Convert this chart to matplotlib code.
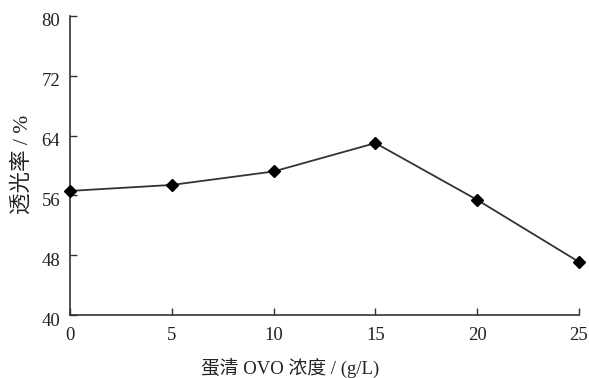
import matplotlib.pyplot as plt
from matplotlib.transforms import ScaledTranslation

# Data
conc = [0, 5, 10, 15, 20, 25]                       # g/L
transmittance = [56.6, 57.4, 59.2, 63.0, 55.4, 47.1]  # %
xticks = [0, 5, 10, 15, 20, 25]
yticks = [40, 48, 56, 64, 72, 80]

plt.rcParams['font.family'] = ['Liberation Serif', 'Noto Sans CJK SC']
textColour = "#222222"

fig = plt.figure(figsize=(5.89, 3.78), dpi=100)
ax = fig.add_axes([70/589, 1 - 315/378, 509/589, 299/378])

ax.plot(conc, transmittance, color="#333333", lw=1.3, marker="D", markersize=6,
        markerfacecolor="black", markeredgecolor="black", clip_on=False, zorder=3)

ax.set_xlim(0, 25)
ax.set_ylim(40, 80)
ax.set_xticks(xticks)
ax.set_yticks(yticks)
ax.tick_params(direction="in", length=5, width=1, colors="#333333",
               labelsize=13.5, labelcolor=textColour)
ax.tick_params(axis="x", pad=9)
ax.tick_params(axis="y", pad=7)

# y tick labels sit a few pixels below their ticks in the reference
shift = ScaledTranslation(0, -4/100, fig.dpi_scale_trans)
for lab in ax.get_yticklabels():
    lab.set_transform(lab.get_transform() + shift)

for side in ["top", "right"]:
    ax.spines[side].set_visible(False)
for side in ["left", "bottom"]:
    ax.spines[side].set_linewidth(1.2)
    ax.spines[side].set_color("#333333")

# Axis labels (mixed Chinese / Latin text)
fig.text(290/589, 1 - 368/378, "蛋清 OVO 浓度 / (g/L)", ha="center", va="center",
         fontsize=13.5, color=textColour, family=['Liberation Serif', 'Noto Sans CJK SC'])
fig.text(22/589, 1 - 164/378, "透光率 / %", ha="center", va="center", rotation=90,
         fontsize=15.5, color=textColour, family=['Liberation Serif', 'Noto Sans CJK SC'])

fig.savefig("out.png", dpi=100)
